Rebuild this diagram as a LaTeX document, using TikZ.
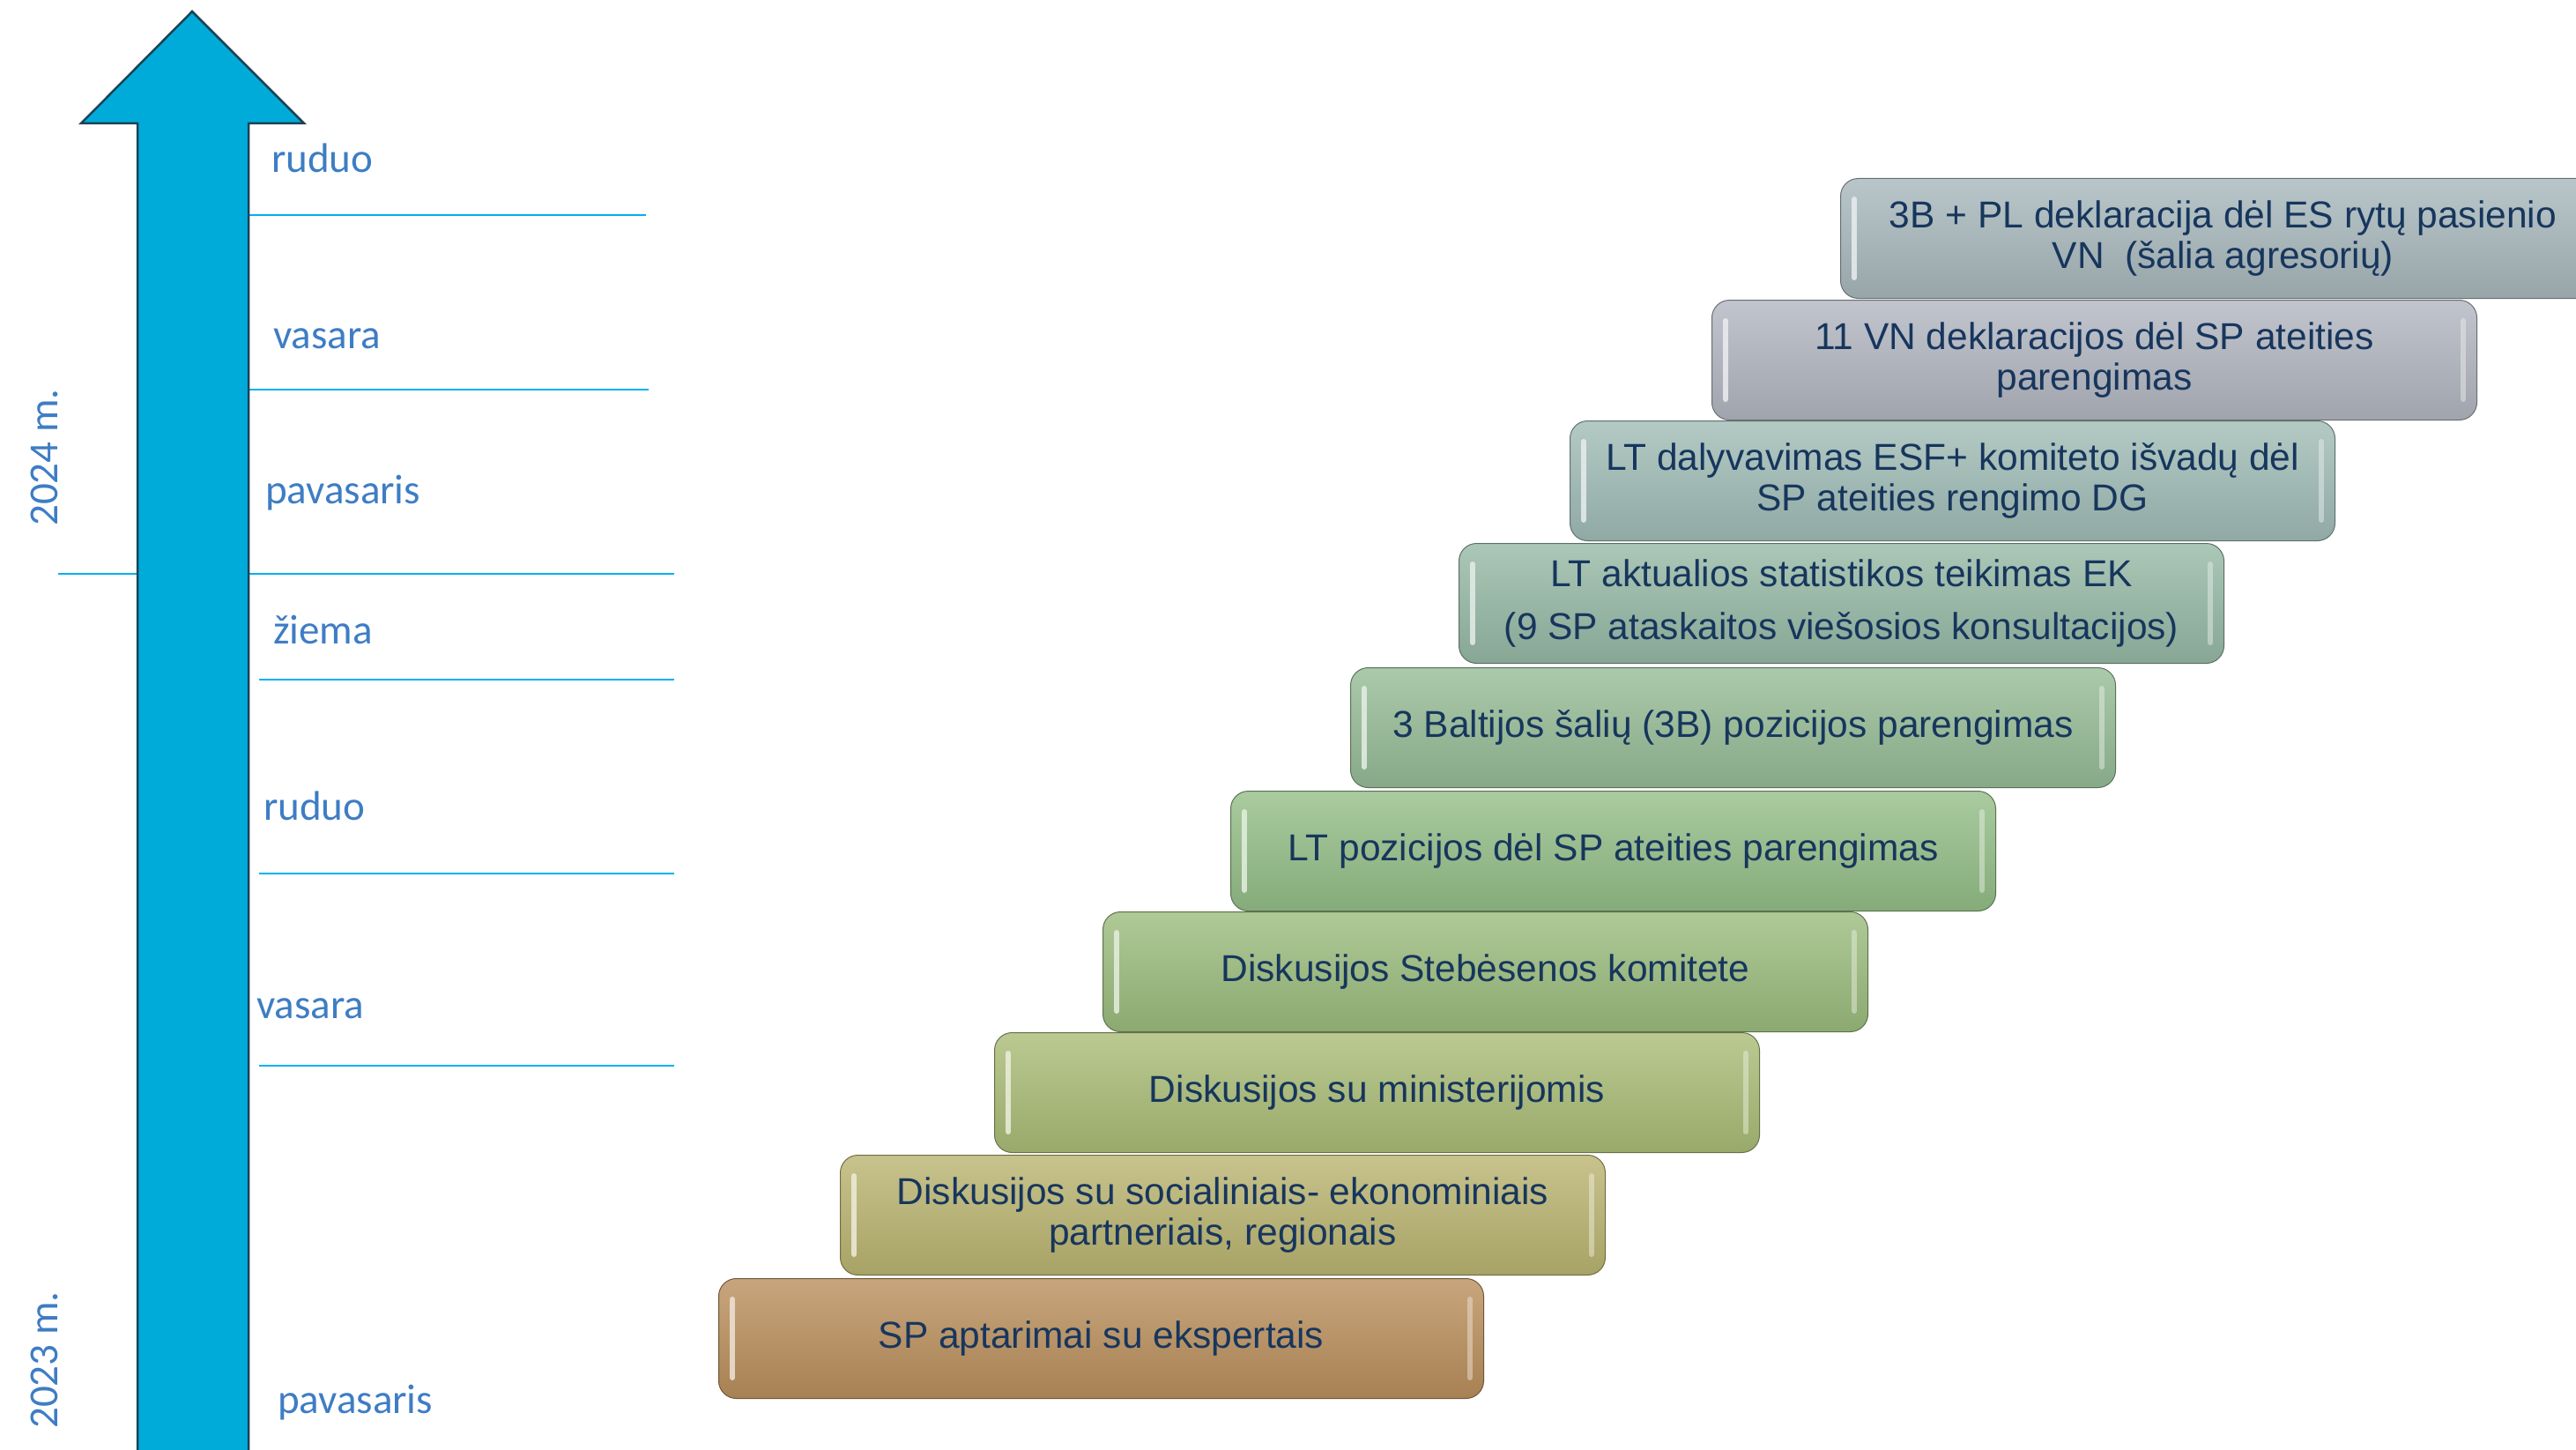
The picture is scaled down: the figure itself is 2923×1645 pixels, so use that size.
\documentclass[tikz,border=0pt]{standalone}
\usepackage{fontspec}
\setmainfont{Liberation Sans}
\newfontfamily\seasonfont{Carlito}

\definecolor{arrowblue}{RGB}{0,171,218}
\definecolor{arrowedge}{RGB}{28,66,84}
\definecolor{gridblue}{RGB}{0,176,240}
\definecolor{labelblue}{RGB}{62,125,196}
\definecolor{boxtext}{RGB}{23,54,93}
\definecolor{stepA}{RGB}{186,143,92}
\definecolor{stepB}{RGB}{186,180,112}
\definecolor{stepC}{RGB}{170,188,118}
\definecolor{stepD}{RGB}{155,188,125}
\definecolor{stepE}{RGB}{148,190,135}
\definecolor{stepF}{RGB}{150,188,150}
\definecolor{stepG}{RGB}{150,185,165}
\definecolor{stepH}{RGB}{160,188,182}
\definecolor{stepI}{RGB}{178,182,192}
\definecolor{stepJ}{RGB}{168,184,188}

\tikzset{
  season/.style={anchor=base west, inner sep=0pt, text=labelblue,
    font=\seasonfont\fontsize{47}{50}\selectfont},
  yearlbl/.style={rotate=90, inner sep=0pt, text=labelblue,
    font=\seasonfont\fontsize{47}{50}\selectfont},
  sepline/.style={draw=gridblue, line width=2pt},
  stepbox/.style={anchor=north west, minimum width=868pt, minimum height=136pt,
    inner sep=0pt, rounded corners=20pt, align=center, text=boxtext,
    font=\fontsize{42.5}{46}\selectfont,
    top color=#1!80!white, bottom color=#1!90!black,
    draw=#1!60!black, line width=1pt},
  shine/.style={draw=#1!25!white, line width=6pt, line cap=round, opacity=0.85},
}

\begin{document}
\begin{tikzpicture}[x=1pt, y=-1pt]
\useasboundingbox (0,0) rectangle (2923,1645);
\clip (0,0) rectangle (2923,1645);

% season separators
\draw[sepline] (282,244) -- (733,244);
\draw[sepline] (282,442) -- (736,442);
\draw[sepline] (66,651) -- (765,651);
\draw[sepline] (294,771) -- (765,771);
\draw[sepline] (294,991) -- (765,991);
\draw[sepline] (294,1209) -- (765,1209);

% time arrow
\draw[fill=arrowblue, draw=arrowedge, line width=2.5pt, line join=miter]
  (156,1670) -- (156,140) -- (92,140) -- (218,13) -- (345,140) -- (282,140) -- (282,1670);

% years and seasons
\node[yearlbl] (y2024) at (50,519) {2024 m.};
\node[yearlbl] (y2023) at (50,1543) {2023 m.};

\node[season] (s7) at (308,196) {ruduo};
\node[season] (s6) at (310,395) {vasara};
\node[season] (s5) at (301,571) {pavasaris};
\node[season] (s4) at (310,730) {žiema};
\node[season] (s3) at (299,930) {ruduo};
\node[season] (s2) at (291,1155) {vasara};
\node[season] (s1) at (315,1603) {pavasaris};

% steps
\node[stepbox=stepA] (b1) at (815,1450) {SP aptarimai su ekspertais};
\node[stepbox=stepB] (b2) at (953,1310) {Diskusijos su socialiniais- ekonominiais\\partneriais, regionais};
\node[stepbox=stepC] (b3) at (1128,1171) {Diskusijos su ministerijomis};
\node[stepbox=stepD] (b4) at (1251,1034) {Diskusijos Stebėsenos komitete};
\node[stepbox=stepE] (b5) at (1396,897) {LT pozicijos dėl SP ateities parengimas};
\node[stepbox=stepF] (b6) at (1532,757) {3 Baltijos šalių (3B) pozicijos parengimas};
\node[stepbox=stepG] (b7) at (1655,616) {LT aktualios statistikos teikimas EK\\[14pt](9 SP ataskaitos viešosios konsultacijos)};
\node[stepbox=stepH] (b8) at (1781,477) {LT dalyvavimas ESF+ komiteto išvadų dėl\\SP ateities rengimo DG};
\node[stepbox=stepI] (b9) at (1942,340) {11 VN deklaracijos dėl SP ateities\\parengimas};
\node[stepbox=stepJ] (b10) at (2088,202) {3B + PL deklaracija dėl ES rytų pasienio\\VN\ \ (šalia agresorių)};

% bevel shine
\foreach \b/\c in {b1/stepA,b2/stepB,b3/stepC,b4/stepD,b5/stepE,b6/stepF,b7/stepG,b8/stepH,b9/stepI,b10/stepJ} {
  \draw[shine=\c] ([xshift=16pt,yshift=-24pt]\b.north west) -- ([xshift=16pt,yshift=24pt]\b.south west);
  \draw[shine=\c, opacity=0.5] ([xshift=-16pt,yshift=-24pt]\b.north east) -- ([xshift=-16pt,yshift=24pt]\b.south east);
}
\end{tikzpicture}
\end{document}
